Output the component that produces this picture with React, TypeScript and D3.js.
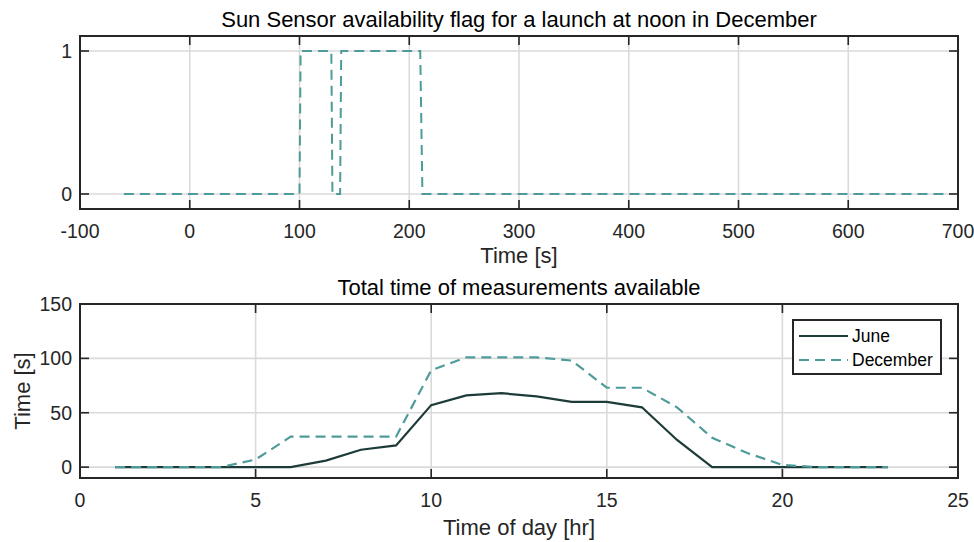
import React, { useEffect, useRef } from 'react';
import * as d3 from 'd3';

// Top panel: sun sensor flag (step trace), December launch at noon
const flagTime = [-60, 100, 101, 129, 130, 137, 138, 210, 212, 690];
const flagValue = [0, 0, 1, 1, 0, 0, 1, 1, 0, 0];
const flagXTicks = [-100, 0, 100, 200, 300, 400, 500, 600, 700];
const flagYTicks = [0, 1];

// Bottom panel: total measurement time per hour of day
const hours = [1, 2, 3, 4, 5, 6, 7, 8, 9, 10, 11, 12, 13, 14, 15, 16, 17, 18, 19, 20, 21, 22, 23];
const juneTime = [0, 0, 0, 0, 0, 0, 6, 16, 20, 57, 66, 68, 65, 60, 60, 55, 25, 0, 0, 0, 0, 0, 0];
const decTime = [0, 0, 0, 0, 7, 28, 28, 28, 28, 89, 101, 101, 101, 98, 73, 73, 55, 27, 13, 2, 0, 0, 0];
const hourTicks = [0, 5, 10, 15, 20, 25];
const timeTicks = [0, 50, 100, 150];

const W = 974;
const H = 542;
const FONT = 'Liberation Sans, Arial, Helvetica, sans-serif';
const AXIS = '#262626';
const GRID = '#dadada';
const TEAL = '#4e9c9a';
const DARK = '#1d3b39';

function drawPanel(
  svg: d3.Selection<SVGSVGElement, unknown, null, undefined>,
  x: d3.ScaleLinear<number, number>,
  y: d3.ScaleLinear<number, number>,
  xTicks: number[],
  yTicks: number[]
) {
  const [x0, x1] = x.range();
  const [y0, y1] = y.range(); // y0 bottom, y1 top
  const g = svg.append('g');

  // grid
  g.selectAll('line.gx').data(xTicks).enter().append('line')
    .attr('x1', (d) => x(d)).attr('x2', (d) => x(d))
    .attr('y1', y1).attr('y2', y0)
    .attr('stroke', GRID).attr('stroke-width', 1.6);
  g.selectAll('line.gy').data(yTicks).enter().append('line')
    .attr('x1', x0).attr('x2', x1)
    .attr('y1', (d) => y(d)).attr('y2', (d) => y(d))
    .attr('stroke', GRID).attr('stroke-width', 1.6);

  // ticks, inward on all four sides
  const tl = 9;
  xTicks.forEach((t) => {
    g.append('line').attr('x1', x(t)).attr('x2', x(t)).attr('y1', y0).attr('y2', y0 - tl)
      .attr('stroke', AXIS).attr('stroke-width', 1.6);
    g.append('line').attr('x1', x(t)).attr('x2', x(t)).attr('y1', y1).attr('y2', y1 + tl)
      .attr('stroke', AXIS).attr('stroke-width', 1.6);
    g.append('text').attr('x', x(t)).attr('y', y0 + 29)
      .attr('text-anchor', 'middle').attr('font-size', 19.5).attr('fill', AXIS)
      .attr('font-family', FONT).text(String(t));
  });
  yTicks.forEach((t) => {
    g.append('line').attr('x1', x0).attr('x2', x0 + tl).attr('y1', y(t)).attr('y2', y(t))
      .attr('stroke', AXIS).attr('stroke-width', 1.6);
    g.append('line').attr('x1', x1).attr('x2', x1 - tl).attr('y1', y(t)).attr('y2', y(t))
      .attr('stroke', AXIS).attr('stroke-width', 1.6);
    g.append('text').attr('x', x0 - 8).attr('y', y(t)).attr('dy', '0.36em')
      .attr('text-anchor', 'end').attr('font-size', 19.5).attr('fill', AXIS)
      .attr('font-family', FONT).text(String(t));
  });

  // box
  g.append('rect').attr('x', x0).attr('y', y1).attr('width', x1 - x0).attr('height', y0 - y1)
    .attr('fill', 'none').attr('stroke', AXIS).attr('stroke-width', 2);
}

export default function App() {
  const svgRef = useRef<SVGSVGElement>(null);

  useEffect(() => {
    if (!svgRef.current) return;
    const svg = d3.select(svgRef.current);
    svg.selectAll('*').remove();

    const left = 80;
    const right = 958;

    // ---- top panel ----
    const x1 = d3.scaleLinear().domain([-100, 700]).range([left, right]);
    const y1 = d3.scaleLinear().domain([-0.105, 1.105]).range([209, 36]);
    drawPanel(svg, x1, y1, flagXTicks, flagYTicks);

    const flagLine = d3.line<number>()
      .x((_, i) => x1(flagTime[i]))
      .y((d) => y1(d));
    svg.append('path')
      .attr('d', flagLine(flagValue) || '')
      .attr('fill', 'none').attr('stroke', TEAL).attr('stroke-width', 2)
      .attr('stroke-dasharray', '10,6');

    svg.append('text').attr('x', (left + right) / 2).attr('y', 27)
      .attr('text-anchor', 'middle').attr('font-size', 22).attr('fill', '#000')
      .attr('font-family', FONT)
      .text('Sun Sensor availability flag for a launch at noon in December');
    svg.append('text').attr('x', (left + right) / 2).attr('y', 263)
      .attr('text-anchor', 'middle').attr('font-size', 22).attr('fill', AXIS)
      .attr('font-family', FONT).text('Time [s]');

    // ---- bottom panel ----
    const x2 = d3.scaleLinear().domain([0, 25]).range([left, right]);
    const y2 = d3.scaleLinear().domain([-10, 150]).range([478, 304]);
    drawPanel(svg, x2, y2, hourTicks, timeTicks);

    const hourLine = d3.line<number>()
      .x((_, i) => x2(hours[i]))
      .y((d) => y2(d));
    svg.append('path')
      .attr('d', hourLine(juneTime) || '')
      .attr('fill', 'none').attr('stroke', DARK).attr('stroke-width', 2.2);
    svg.append('path')
      .attr('d', hourLine(decTime) || '')
      .attr('fill', 'none').attr('stroke', TEAL).attr('stroke-width', 2.2)
      .attr('stroke-dasharray', '10,6');

    svg.append('text').attr('x', (left + right) / 2).attr('y', 295)
      .attr('text-anchor', 'middle').attr('font-size', 22).attr('fill', '#000')
      .attr('font-family', FONT).text('Total time of measurements available');
    svg.append('text').attr('x', (left + right) / 2).attr('y', 535)
      .attr('text-anchor', 'middle').attr('font-size', 22).attr('fill', AXIS)
      .attr('font-family', FONT).text('Time of day [hr]');
    svg.append('text')
      .attr('transform', `translate(30,${(304 + 478) / 2}) rotate(-90)`)
      .attr('text-anchor', 'middle').attr('font-size', 22).attr('fill', AXIS)
      .attr('font-family', FONT).text('Time [s]');

    // legend
    const lg = svg.append('g').attr('transform', 'translate(793,320)');
    lg.append('rect').attr('width', 148).attr('height', 54)
      .attr('fill', '#fff').attr('stroke', AXIS).attr('stroke-width', 2);
    const items = [
      { name: 'June', color: DARK, dash: null as string | null },
      { name: 'December', color: TEAL, dash: '10,6' },
    ];
    items.forEach((it, i) => {
      const cy = 16 + i * 24;
      lg.append('line').attr('x1', 6).attr('x2', 55).attr('y1', cy).attr('y2', cy)
        .attr('stroke', it.color).attr('stroke-width', 2.2)
        .attr('stroke-dasharray', it.dash);
      lg.append('text').attr('x', 59).attr('y', cy).attr('dy', '0.36em')
        .attr('font-size', 17.5).attr('fill', '#000').attr('font-family', FONT)
        .text(it.name);
    });
  }, []);

  return (
    <div style={{ position: 'absolute', left: 0, top: 0, width: W, height: H, background: '#fff' }}>
      <svg ref={svgRef} width={W} height={H} style={{ display: 'block' }} />
    </div>
  );
}
